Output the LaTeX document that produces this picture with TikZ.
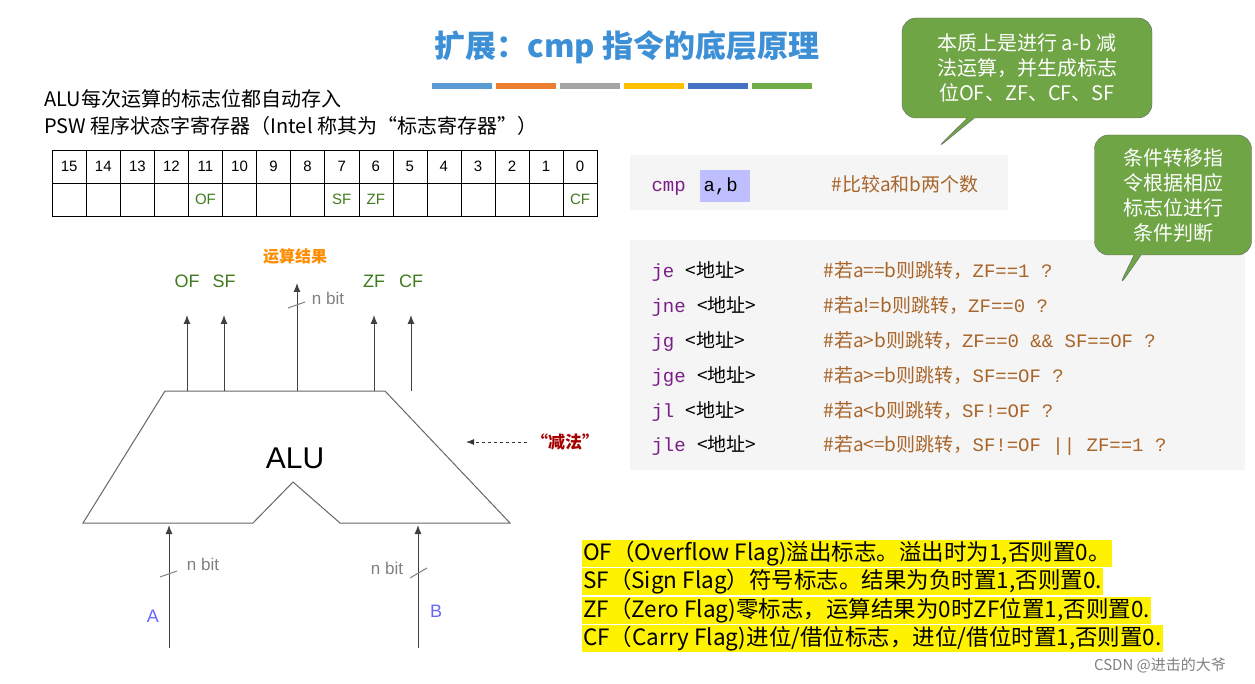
\documentclass[tikz,border=0pt]{standalone}
\usepackage{fontspec}
\setmainfont{Noto Sans CJK SC}
\newfontfamily\cjk{Noto Sans CJK SC}
\newfontfamily\lat{Liberation Sans}
\newfontfamily\mono{Liberation Mono}
\usetikzlibrary{arrows.meta,shapes.callouts}
\definecolor{ttl}{HTML}{3D8FD6}
\definecolor{flag}{HTML}{3F7A1E}
\definecolor{cg}{HTML}{6FA545}
\definecolor{kw}{HTML}{7A1E87}
\definecolor{cm}{HTML}{A8652A}
\tikzset{
 reg/.style={draw,minimum width=34.06pt,minimum height=33pt,inner sep=0,anchor=north west,font=\lat\fontsize{15}{15}\selectfont},
 wire/.style={draw=black!75,line width=1pt,-{Latex[length=9pt,width=7pt]}},
 flagl/.style={text=flag,font=\lat\fontsize{18}{18}\selectfont},
 nbit/.style={text=gray,font=\lat\fontsize{17}{17}\selectfont},
 call/.style={rectangle callout,draw=black!60,fill=cg,rounded corners=14pt,text=white,align=center,font=\cjk\fontsize{20}{25}\selectfont},
 code/.style={anchor=base west,font=\mono\fontsize{19}{19}\selectfont},
 yl/.style={anchor=base west,fill=yellow,inner sep=1pt,font=\cjk\fontsize{22.5}{22.5}\selectfont},
}
\begin{document}
\begin{tikzpicture}[x=1pt,y=-1pt]
\useasboundingbox (0,0) rectangle (1255,684);
\node[text=ttl,font=\cjk\bfseries\fontsize{31}{31}\selectfont] (title) at (627,47) {扩展：cmp 指令的底层原理};
\foreach \c [count=\i] in {5B9BD5,ED7D31,A5A5A5,FFC000,4472C4,70AD47}
  {\definecolor{bc}{HTML}{\c}\fill[bc] (432+\i*64-64,83) rectangle ++(60,6);}
\node[anchor=base west,font=\cjk\fontsize{20}{20}\selectfont,inner sep=0] (t1) at (44,107) {ALU每次运算的标志位都自动存入};
\node[anchor=base west,font=\cjk\fontsize{20}{20}\selectfont,inner sep=0] (t2) at (44,134) {PSW 程序状态字寄存器（Intel 称其为“标志寄存器”）};
\foreach \n [count=\i] in {15,14,...,0}{
  \node[reg] (h\i) at (52+\i*34.06-34.06,150) {\n};
  \node[reg] (b\i) at (52+\i*34.06-34.06,183) {};}
\node[text=flag,font=\lat\fontsize{15}{15}\selectfont] at (b5) {OF};
\node[text=flag,font=\lat\fontsize{15}{15}\selectfont] at (b9) {SF};
\node[text=flag,font=\lat\fontsize{15}{15}\selectfont] at (b10) {ZF};
\node[text=flag,font=\lat\fontsize{15}{15}\selectfont] at (b16) {CF};
% ALU
\draw[black!60,line width=1pt] (165,391) -- (385,391) -- (510,523) -- (340,523) -- (293,482) -- (253,523) -- (83,523) -- cycle;
\node[font=\lat\fontsize{30}{30}\selectfont] (alu) at (295,458) {ALU};
\foreach \x/\l in {187/OF,224/SF,374/ZF,411/CF}{
  \draw[wire] (\x,391) -- (\x,315);
  \node[flagl] at (\x,281) {\l};}
\draw[wire] (297,391) -- (297,283);
\draw[gray,line width=1pt] (288,308) -- (305,302);
\node[nbit] at (328,298) {n bit};
\node[text=orange!90!yellow,font=\cjk\bfseries\fontsize{16}{16}\selectfont] at (295,256) {运算结果};
\coordinate (ain) at (169,648); \coordinate (bin) at (418,648);
\draw[wire] (ain) -- (169,525);
\draw[wire] (bin) -- (418,525);
\draw[gray,line width=1pt] (160,577) -- (177,571);
\draw[gray,line width=1pt] (410,578) -- (427,568);
\node[nbit] at (203,564) {n bit};
\node[nbit] at (387,568) {n bit};
\node[text=blue!60,font=\lat\fontsize{18}{18}\selectfont] at (153,616) {A};
\node[text=blue!60,font=\lat\fontsize{18}{18}\selectfont] at (436,611) {B};
\node[text=red!65!black,font=\cjk\bfseries\fontsize{17}{17}\selectfont] (sub) at (565,442) {“减法”};
\draw[black!80,line width=1pt,dashed,-{Latex[length=8pt,width=6pt]}] (sub.west) -- (466,442);
% code
\fill[black!4] (630,155) rectangle (1008,210);
\fill[black!4] (630,240) rectangle (1245,470);
\fill[blue!25] (700,170) rectangle (750,202);
\node[code,text=kw] at (648,192) {cmp};
\node[code] at (700,192) {a,b};
\node[code,text=cm,font=\cjk\fontsize{19}{19}\selectfont] at (828,192) {\#比较a和b两个数};
\foreach \k/\c [count=\i] in {je/{\#若a==b则跳转，{\mono ZF==1 ?}},jne/{\#若a!=b则跳转，{\mono ZF==0 ?}},jg/{\#若a>b则跳转，{\mono ZF==0 \&\& SF==OF ?}},jge/{\#若a>=b则跳转，{\mono SF==OF ?}},jl/{\#若a<b则跳转，{\mono SF!=OF ?}},jle/{\#若a<=b则跳转，{\mono SF!=OF || ZF==1 ?}}}{
  \node[code] at (648,243+\i*34.8) {{\color{kw}\k} {\cjk <地址>}};
  \node[code,text=cm,font=\cjk\fontsize{19}{19}\selectfont] at (820,243+\i*34.8) {\c};}
% callouts
\node[call,minimum width=250pt,minimum height=100pt,callout absolute pointer={(935,150)}] (c1) at (1027,68) {本质上是进行 a-b 减\\法运算，并生成标志\\位OF、ZF、CF、SF};
\node[call,minimum width=157pt,minimum height=120pt,callout absolute pointer={(1118,288)}] (c2) at (1173,195) {条件转移指\\令根据相应\\标志位进行\\条件判断};
% yellow
\node[yl] at (582,560) {OF（Overflow Flag)溢出标志。溢出时为1,否则置0。};
\node[yl] at (582,588) {SF（Sign Flag）符号标志。结果为负时置1,否则置0.};
\node[yl] at (582,617) {ZF（Zero Flag)零标志，运算结果为0时ZF位置1,否则置0.};
\node[yl] at (582,645) {CF（Carry Flag)进位/借位标志，进位/借位时置1,否则置0.};
\node[text=gray,font=\cjk\fontsize{15}{15}\selectfont] at (1160,665) {CSDN @进击的大爷};
\end{tikzpicture}
\end{document}
